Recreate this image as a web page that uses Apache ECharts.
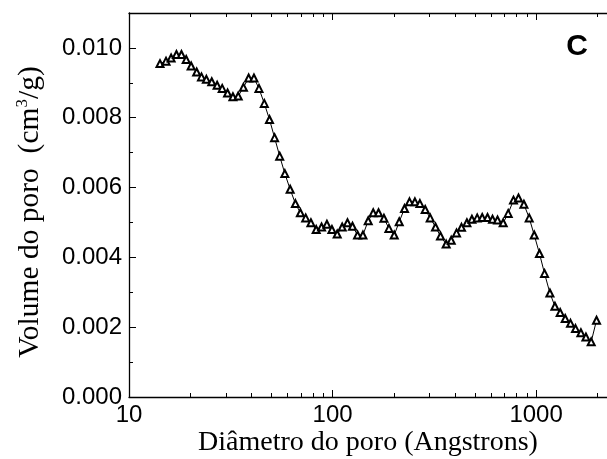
<!DOCTYPE html>
<html>
<head>
<meta charset="utf-8">
<script src="https://cdn.jsdelivr.net/npm/echarts@6/dist/echarts.min.js"></script>
<style>
  html, body { margin: 0; padding: 0; background: #fff; }
  #chart { width: 607px; height: 459px; }
</style>
</head>
<body>
<div id="chart"></div>
<script>
// Pore diameter (Å) and pore volume (cm³/g)
const diameters = [
  14.2, 15.2, 16.1, 17.1, 18.1, 19.1, 20.2, 21.5, 22.7, 24.0,
  25.5, 27.1, 28.7, 30.5, 32.4, 34.4, 36.5, 38.7, 41.1, 43.5,
  46.2, 49.0, 51.9, 55.0, 58.3, 61.9, 65.7, 69.5, 73.8, 78.3,
  83.1, 88.3, 93.8, 99.3, 105.4, 111.5, 118.4, 125.3, 132.7, 141.0,
  149.7, 158.4, 168.2, 178.8, 189.2, 200.9, 212.6, 225.7, 238.8, 253.9,
  268.6, 285.2, 301.8, 320.5, 339.1, 361.6, 382.8, 406.4, 430.1, 457.1,
  483.7, 513.6, 543.6, 577.1, 610.7, 646.3, 689.1, 729.3, 774.3, 819.4,
  871.1, 924.9, 979.0, 1039, 1100, 1169, 1237, 1313, 1390, 1476,
  1562, 1660, 1757, 1865, 1981
];
const volumes = [
  0.00955, 0.00962, 0.00971, 0.00981, 0.00981, 0.00967, 0.00948, 0.00931, 0.00917, 0.00910,
  0.00903, 0.00893, 0.00884, 0.00871, 0.00860, 0.00862, 0.00887, 0.00914, 0.00914, 0.00884,
  0.00841, 0.00795, 0.00743, 0.00690, 0.00640, 0.00595, 0.00554, 0.00528, 0.00513, 0.00499,
  0.00480, 0.00487, 0.00495, 0.00480, 0.00467, 0.00487, 0.00499, 0.00489, 0.00464, 0.00464,
  0.00505, 0.00528, 0.00528, 0.00512, 0.00483, 0.00464, 0.00502, 0.00540, 0.00559, 0.00559,
  0.00554, 0.00537, 0.00513, 0.00487, 0.00461, 0.00438, 0.00449, 0.00470, 0.00486, 0.00499,
  0.00509, 0.00513, 0.00514, 0.00514, 0.00509, 0.00507, 0.00499, 0.00526, 0.00564, 0.00570,
  0.00552, 0.00513, 0.00464, 0.00411, 0.00354, 0.00298, 0.00260, 0.00242, 0.00225, 0.00211,
  0.00196, 0.00184, 0.00172, 0.00158, 0.00220
];

// Axis ticks
const xMajorTicks = [10, 100, 1000];
const xMinorTicks = [20, 30, 40, 50, 60, 70, 80, 90, 200, 300, 400, 500, 600, 700, 800, 900, 2000];
const xMin = 10, xMax = 2230;
const yMin = 0, yMax = 0.011, yMajorStep = 0.002, yMinorStep = 0.001;

const xTitle = 'Diâmetro do poro (Angstrons)';
const yTitleRich = '{a|Volume do poro  (cm}{s|3}{a|/g)}';
const panelLetter = 'C';

const points = diameters.map((d, i) => [d, volumes[i]]);

const ink = '#000';
const serif = '"Liberation Serif", "Times New Roman", serif';
const sans = '"Liberation Sans", Arial, sans-serif';
const axisLineStyle = { color: ink, width: 1.3 };
const tickFont = { fontFamily: sans, fontSize: 24, color: ink };

function logAxis(position, ticks, len, withLine, withLabel) {
  return {
    type: 'log',
    logBase: 10,
    min: xMin,
    max: xMax,
    position: position,
    axisLine: { show: withLine, onZero: false, lineStyle: axisLineStyle },
    axisTick: { show: true, inside: true, length: len, customValues: ticks, lineStyle: { color: ink, width: 1 } },
    axisLabel: withLabel
      ? Object.assign({ show: true, customValues: ticks, margin: 6, formatter: v => String(Math.round(v)) }, tickFont)
      : { show: false },
    splitLine: { show: false },
    minorTick: { show: false },
    minorSplitLine: { show: false }
  };
}

function valueAxis(step, len, withLine, withLabel) {
  return {
    type: 'value',
    min: yMin,
    max: yMax,
    interval: step,
    position: 'left',
    axisLine: { show: withLine, onZero: false, lineStyle: axisLineStyle },
    axisTick: { show: true, inside: true, length: len, lineStyle: { color: ink, width: 1 } },
    axisLabel: withLabel
      ? Object.assign({ show: true, margin: 7, showMaxLabel: false, formatter: v => v.toFixed(3) }, tickFont)
      : { show: false },
    splitLine: { show: false }
  };
}

const chart = echarts.init(document.getElementById('chart'), null, { renderer: 'canvas' });

chart.setOption({
  backgroundColor: '#fff',
  animation: false,
  grid: { left: 129, right: 0, top: 13, bottom: 62, containLabel: false },
  xAxis: [
    logAxis('bottom', xMajorTicks, 7, true, true),
    logAxis('bottom', xMinorTicks, 4, false, false),
    logAxis('top', xMajorTicks, 7, true, false),
    logAxis('top', xMinorTicks, 4, false, false)
  ],
  yAxis: [
    valueAxis(yMajorStep, 7, true, true),
    valueAxis(yMinorStep, 4, false, false)
  ],
  series: [{
    type: 'line',
    xAxisIndex: 0,
    yAxisIndex: 0,
    data: points,
    symbol: 'emptyTriangle',
    symbolSize: 7,
    showAllSymbol: true,
    lineStyle: { color: ink, width: 1 },
    itemStyle: { color: ink, borderColor: ink, borderWidth: 1 },
    emphasis: { disabled: true }
  }],
  graphic: [
    {
      // x-axis title
      type: 'text',
      x: 368,
      y: 443,
      style: {
        text: xTitle,
        align: 'center',
        verticalAlign: 'middle',
        fill: ink,
        font: '28px ' + serif
      }
    },
    {
      // y-axis title with superscript unit
      type: 'text',
      x: 30,
      y: 212,
      rotation: Math.PI / 2,
      style: {
        text: yTitleRich,
        align: 'center',
        verticalAlign: 'middle',
        fill: ink,
        rich: {
          a: { fontFamily: serif, fontSize: 29.5, fill: ink, lineHeight: 32 },
          s: { fontFamily: serif, fontSize: 17, fill: ink, verticalAlign: 'top', lineHeight: 32 }
        }
      }
    },
    {
      type: 'text',
      x: 577,
      y: 47,
      style: {
        text: panelLetter,
        align: 'center',
        verticalAlign: 'middle',
        fill: ink,
        font: 'bold 30px ' + sans
      }
    }
  ]
});
</script>
</body>
</html>
